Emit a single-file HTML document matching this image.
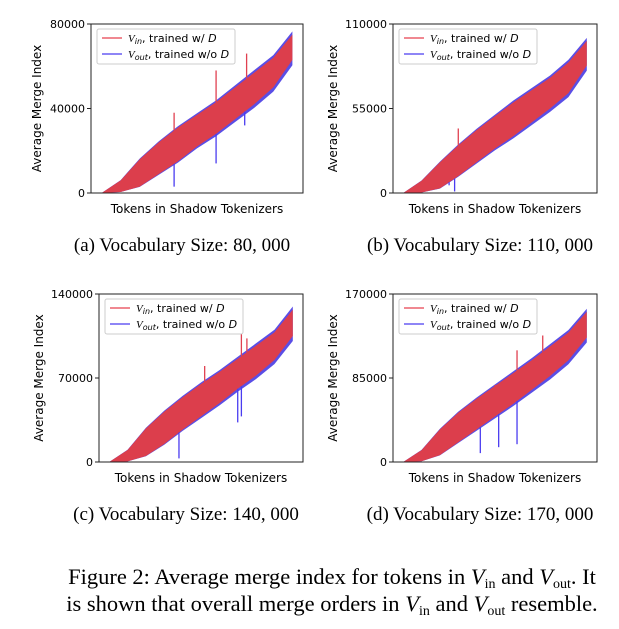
<!DOCTYPE html>
<html><head><meta charset="utf-8"><style>
body{margin:0;background:#fff;width:619px;height:624px;overflow:hidden}
svg text{font-family:"DejaVu Sans","Liberation Sans",sans-serif}
</style></head><body>
<svg id="fig" width="619" height="624" xmlns="http://www.w3.org/2000/svg">
<text x="332" y="584" text-anchor="middle" style="font-family:'Liberation Serif',serif;font-size:22.5px">Figure 2: Average merge index for tokens in <tspan font-style="italic">V</tspan><tspan font-size="14" dy="4">in</tspan><tspan dy="-4"> and </tspan><tspan font-style="italic">V</tspan><tspan font-size="14" dy="4">out</tspan><tspan dy="-4">. It</tspan></text>
<text x="332" y="611" text-anchor="middle" style="font-family:'Liberation Serif',serif;font-size:22.5px">is shown that overall merge orders in <tspan font-style="italic">V</tspan><tspan font-size="14" dy="4">in</tspan><tspan dy="-4"> and </tspan><tspan font-style="italic">V</tspan><tspan font-size="14" dy="4">out</tspan><tspan dy="-4"> resemble.</tspan></text>
</svg>
<script>
const pos=[0,0.1,0.2,0.3,0.4,0.5,0.6,0.7,0.8,0.9,1.0];
const ymaxA=80000, ticksA=["0","40000","80000"];
const upperA=[0,6000,16000,24000,31000,37000,43000,50000,57000,64000,75000];
const lowerA=[0,500,3000,9000,15000,22000,28000,35000,42000,50000,63000];
const spikeInA=[[0.38,38000],[0.6,58000],[0.76,66000]];
const spikeOutA=[[0.38,3000],[0.6,14000],[0.75,32000]];
const ymaxB=110000, ticksB=["0","55000","110000"];
const upperB=[0,8000,20000,31000,41000,50000,59000,67000,75000,85000,99000];
const lowerB=[0,300,3000,11000,20000,29000,37000,46000,55000,65000,83000];
const spikeInB=[[0.3,42000]];
const spikeOutB=[[0.28,1000],[0.25,5000]];
const ymaxC=140000, ticksC=["0","70000","140000"];
const upperC=[0,10000,28000,42000,54000,65000,75000,86000,97000,108000,127000];
const lowerC=[0,500,5000,15000,27000,38000,49000,61000,72000,85000,105000];
const spikeInC=[[0.52,80000],[0.72,107000],[0.75,103000]];
const spikeOutC=[[0.38,3000],[0.7,33000],[0.72,38000]];
const ymaxD=170000, ticksD=["0","85000","170000"];
const upperD=[0,12000,33000,50000,64000,77000,90000,103000,117000,131000,152000];
const lowerD=[0,800,7000,20000,33000,46000,59000,73000,87000,103000,126000];
const spikeInD=[[0.5,78000],[0.62,113000],[0.76,128000]];
const spikeOutD=[[0.42,9000],[0.52,15000],[0.62,18000]];

const NS="http://www.w3.org/2000/svg";
const svg=document.getElementById('fig');
function mk(tag,attrs,parent){const e=document.createElementNS(NS,tag);for(const k in attrs)e.setAttribute(k,attrs[k]);(parent||svg).appendChild(e);return e;}

function panel(id,L,T,R,B,ymax,ticks,up,lo,sIn,sOut,cap){
  const g=mk('g',{});
  
  
  const W=R-L,H=B-T;
  const xs=p=>L+W*(0.05+0.9*p);
  const ys=v=>B-H*v/ymax;
  let pb=pos.map((p,i)=>xs(p)+','+ys(up[i]*1.02)).concat(pos.slice().reverse().map((p,j)=>{const i=pos.length-1-j;return xs(p)+','+ys(lo[i]*0.96);}));
  const bb=mk('polygon',{points:pb.join(' '),fill:'#5a4ee6'},g);
  
  
  let pr=pos.map((p,i)=>xs(p)+','+ys(up[i])).concat(pos.slice().reverse().map((p,j)=>{const i=pos.length-1-j;return xs(p)+','+ys(lo[i]);}));
  const rb=mk('polygon',{points:pr.join(' '),fill:'#dc3e4c'},g);
  
  
  const interp=(arr,p)=>{for(let i=1;i<pos.length;i++){if(p<=pos[i]){const t=(p-pos[i-1])/(pos[i]-pos[i-1]);return arr[i-1]+t*(arr[i]-arr[i-1]);}}return arr[arr.length-1];};
  sIn.forEach(s=>{const l=mk('line',{x1:xs(s[0]),x2:xs(s[0]),y1:ys(interp(up,s[0])),y2:ys(s[1]),stroke:'#e04050','stroke-width':1.3},g);
    
    });
  sOut.forEach(s=>{const l=mk('line',{x1:xs(s[0]),x2:xs(s[0]),y1:ys(interp(lo,s[0])),y2:ys(s[1]),stroke:'#4a3cf0','stroke-width':1.3},g);
    
    });
  const fr=mk('rect',{x:L,y:T,width:W,height:H,fill:'none',stroke:'#222','stroke-width':1},g);
  
  
  ticks.forEach((t,i)=>{const y=ys(ymax*i/(ticks.length-1));
    mk('line',{x1:L-4,x2:L,y1:y,y2:y,stroke:'#222'},g);
    const tx=mk('text',{x:L-6,y:y+4,'text-anchor':'end','font-size':11},g);tx.textContent=t;
    
    });
  const yl=mk('text',{x:0,y:0,'text-anchor':'middle','font-size':12,transform:`translate(${L-56+(ticks[2].length>5?0:6)},${(T+B)/2}) rotate(-90)`},g);
  yl.textContent='Average Merge Index';
  
  
  const xl=mk('text',{x:(L+R)/2,y:B+20,'text-anchor':'middle','font-size':12},g);
  xl.textContent='Tokens in Shadow Tokenizers';
  
  
  const lg=mk('g',{},g);
  
  
  mk('rect',{x:L+6,y:T+5,width:138,height:35,rx:2,fill:'#fff','fill-opacity':0.8,stroke:'#ccc'},lg);
  mk('line',{x1:L+11,x2:L+31,y1:T+14,y2:T+14,stroke:'#e8404f','stroke-width':1.3},lg);
  mk('line',{x1:L+11,x2:L+31,y1:T+30,y2:T+30,stroke:'#4a3cf0','stroke-width':1.3},lg);
  const t1=mk('text',{x:L+37,y:T+18,'font-size':11},lg);
  t1.innerHTML='<tspan font-style="italic" font-family="Liberation Serif">V</tspan><tspan font-size="8" font-style="italic" dy="2">in</tspan><tspan dy="-2">, trained w/ </tspan><tspan font-style="italic">D</tspan>';
  
  
  const t2=mk('text',{x:L+37,y:T+34,'font-size':11},lg);
  t2.innerHTML='<tspan font-style="italic" font-family="Liberation Serif">V</tspan><tspan font-size="8" font-style="italic" dy="2">out</tspan><tspan dy="-2">, trained w/o </tspan><tspan font-style="italic">D</tspan>';
  
  
  const c=mk('text',{x:(L+R)/2-15,y:B+58,'text-anchor':'middle','font-size':19,style:"font-family:'Liberation Serif',serif"},g);
  c.textContent=cap;
  
  
}
panel('a',91,24,303,193,ymaxA,ticksA,upperA,lowerA,spikeInA,spikeOutA,'(a)  Vocabulary Size: 80, 000');
panel('b',393,24,597,193,ymaxB,ticksB,upperB,lowerB,spikeInB,spikeOutB,'(b)  Vocabulary Size: 110, 000');
panel('c',99,294,303,462,ymaxC,ticksC,upperC,lowerC,spikeInC,spikeOutC,'(c)  Vocabulary Size: 140, 000');
panel('d',393,294,597,462,ymaxD,ticksD,upperD,lowerD,spikeInD,spikeOutD,'(d)  Vocabulary Size: 170, 000');
</script>
</body></html>
